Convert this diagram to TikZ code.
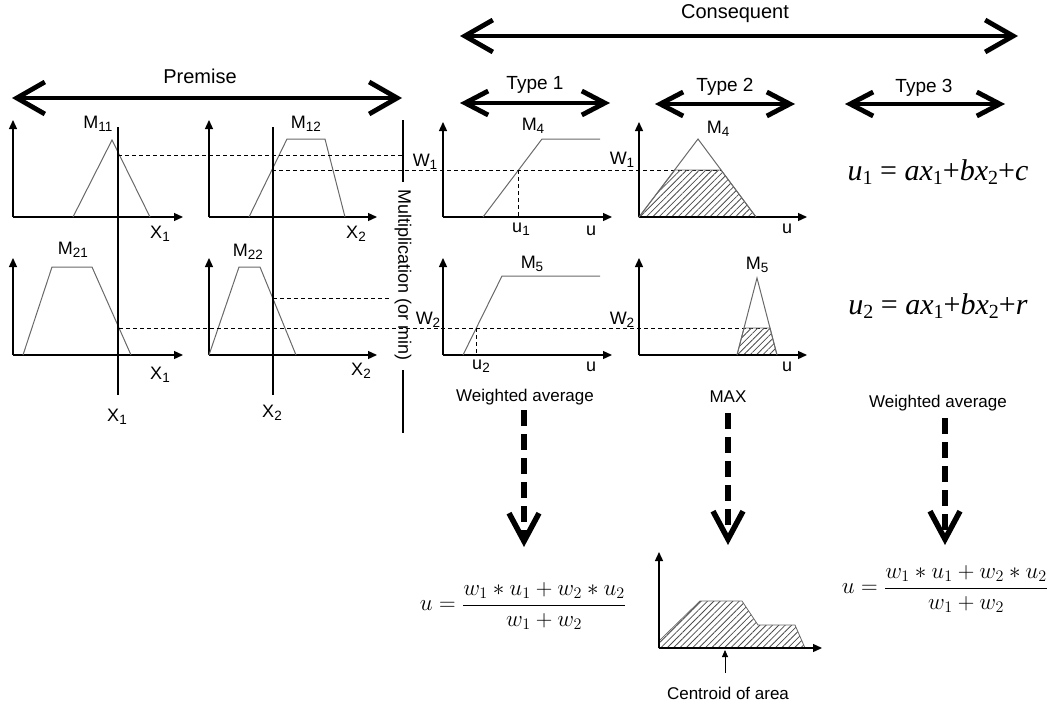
\RequirePackage{fix-cm}
\documentclass[tikz,border=0pt]{standalone}
\usepackage[no-math]{fontspec}
\setmainfont{Liberation Sans}
\newfontfamily\tmsfont{Liberation Serif}
\usetikzlibrary{arrows.meta,patterns.meta}
\newcommand{\sbx}[1]{\raisebox{-0.3ex}{\fontsize{13.5}{14}\selectfont #1}}
\newcommand{\tsb}[1]{\raisebox{-0.35ex}{\fontsize{20}{20}\selectfont #1}}
\definecolor{mfgray}{RGB}{105,105,105}
\begin{document}
\begin{tikzpicture}[x=1pt,y=-1pt,
  lbl/.style={font=\fontsize{18}{18}\selectfont, inner sep=0pt},
  titlelbl/.style={font=\fontsize{20}{20}\selectfont, inner sep=0pt},
  typelbl/.style={font=\fontsize{19}{19}\selectfont, inner sep=0pt},
  smalllbl/.style={font=\fontsize{17}{17}\selectfont, inner sep=0pt},
  axisline/.style={line width=1.3pt, -{Triangle[length=9pt,width=8pt]}},
  mf/.style={draw=mfgray, line width=1pt, line join=miter},
  guide/.style={line width=0.9pt, dash pattern=on 4pt off 3pt},
  vline/.style={line width=1.2pt},
  bigbracket/.style={line width=4.8pt, {Straight Barb[length=28pt,width=32pt]}-{Straight Barb[length=28pt,width=32pt]}},
  typebracket/.style={line width=4.8pt, {Straight Barb[length=23pt,width=24pt]}-{Straight Barb[length=23pt,width=24pt]}},
  downarrow/.style={line width=5.5pt, dash pattern=on 16pt off 8pt, -{Straight Barb[length=28pt,width=30pt]}},
  hatch/.style={draw=mfgray, line width=0.8pt, pattern={Lines[angle=45,distance=4.5pt,line width=0.8pt]}, pattern color=black!70}
]
\useasboundingbox (0,0) rectangle (1058,704);

% ---------- brackets ----------
\coordinate (cL) at (460,36); \coordinate (cR) at (1018,36);
\draw[bigbracket] (cL) -- (cR);
\node[titlelbl] (cons) at (735,14) {Consequent};
\coordinate (pL) at (12,98); \coordinate (pR) at (402,98);
\draw[bigbracket] (pL) -- (pR);
\node[titlelbl] (prem) at (200,76) {Premise};
\coordinate (t1L) at (460,103); \coordinate (t1R) at (610,103);
\draw[typebracket] (t1L) -- (t1R);
\node[typelbl] (t1) at (535,85) {Type 1};
\coordinate (t2L) at (655,104); \coordinate (t2R) at (795,104);
\draw[typebracket] (t2L) -- (t2R);
\node[typelbl] (t2) at (725,87) {Type 2};
\coordinate (t3L) at (845,104); \coordinate (t3R) at (1005,104);
\draw[typebracket] (t3L) -- (t3R);
\node[typelbl] (t3) at (924,88) {Type 3};

% ---------- premise plots ----------
% plot 1
\coordinate (o1) at (13,217);
\draw[axisline] (o1) -- (13,120);
\draw[axisline] (o1) -- (183,217);
\draw[mf] (73,217) -- (112,140) -- (150,217);
\node[lbl] (m11) at (98,124) {M\sbx{11}};
\node[lbl] (x1a) at (160,234) {X\sbx{1}};
% plot 2
\coordinate (o2) at (209,217);
\draw[axisline] (o2) -- (209,120);
\draw[axisline] (o2) -- (377,217);
\draw[mf] (249,217) -- (287,139) -- (325,139) -- (345,217);
\node[lbl] (m12) at (306,124) {M\sbx{12}};
\node[lbl] (x2a) at (356,234) {X\sbx{2}};
% plot 3
\coordinate (o3) at (13,355);
\draw[axisline] (o3) -- (13,258);
\draw[axisline] (o3) -- (183,355);
\draw[mf] (23,355) -- (52,267) -- (92,267) -- (131,355);
\node[lbl] (m21) at (73,250) {M\sbx{21}};
\node[lbl] (x1b) at (160,375) {X\sbx{1}};
% plot 4
\coordinate (o4) at (209,355);
\draw[axisline] (o4) -- (209,258);
\draw[axisline] (o4) -- (377,355);
\draw[mf] (209,355) -- (239,267) -- (260,267) -- (296,355);
\node[lbl] (m22) at (248,252) {M\sbx{22}};
\node[lbl] (x2b) at (361,371) {X\sbx{2}};

% input lines
\draw[vline] (118,127) -- (118,395);
\draw[vline] (273,127) -- (273,395);
\node[lbl] (x1in) at (117,417) {X\sbx{1}};
\node[lbl] (x2in) at (272,413) {X\sbx{2}};

% guide lines
\draw[guide] (118,155) -- (403,155);
\draw[guide] (272,170) -- (721,170);
\draw[guide] (119,328) -- (770,328);
\draw[guide] (273,298) -- (390,298);

% multiplication
\draw[vline] (403,120) -- (403,182);
\draw[vline] (403,370) -- (403,433);
\node[font=\fontsize{18}{18}\selectfont, inner sep=0pt, rotate=-90] (mult) at (403,275) {Multiplication (or min)};

% ---------- consequent plots ----------
% plot 5
\coordinate (o5) at (443,217);
\draw[axisline] (o5) -- (443,122);
\draw[axisline] (o5) -- (612,217);
\draw[mf] (483,217) -- (542,139) -- (600,139);
\draw[guide] (518,170) -- (518,217);
\node[lbl] (m4a) at (533,126) {M\sbx{4}};
\node[lbl] (w1a) at (425,162) {W\sbx{1}};
\node[lbl] (u1) at (521,229) {u\sbx{1}};
\node[lbl] (ua) at (591,231) {u};
% plot 6
\coordinate (o6) at (639,217);
\draw[hatch] (639,217) -- (675,170) -- (721,170) -- (756,217) -- cycle;
\draw[axisline] (o6) -- (639,122);
\draw[axisline] (o6) -- (807,217);
\draw[mf] (639,217) -- (698,139) -- (756,217);
\node[lbl] (m4b) at (718,129) {M\sbx{4}};
\node[lbl] (w1b) at (622,160) {W\sbx{1}};
\node[lbl] (ub) at (787,229) {u};
% plot 7
\coordinate (o7) at (443,355);
\draw[axisline] (o7) -- (443,258);
\draw[axisline] (o7) -- (612,355);
\draw[mf] (463,355) -- (502,276) -- (600,276);
\draw[guide] (476,328) -- (476,355);
\node[lbl] (m5a) at (532,264) {M\sbx{5}};
\node[lbl] (w2a) at (428,320) {W\sbx{2}};
\node[lbl] (u2) at (481,366) {u\sbx{2}};
\node[lbl] (uc) at (591,367) {u};
% plot 8
\coordinate (o8) at (639,355);
\draw[hatch] (737,355) -- (744,328) -- (770,328) -- (777,355) -- cycle;
\draw[axisline] (o8) -- (639,258);
\draw[axisline] (o8) -- (807,355);
\draw[mf] (737,355) -- (757,278) -- (777,355);
\node[lbl] (m5b) at (757,265) {M\sbx{5}};
\node[lbl] (w2b) at (622,320) {W\sbx{2}};
\node[lbl] (ud) at (787,367) {u};

% ---------- type 3 equations ----------
\node[inner sep=0pt, font=\tmsfont\fontsize{30}{30}\selectfont] (eq1) at (938,172)
  {\textit{u}\tsb{1} = \textit{ax}\tsb{1}+\textit{bx}\tsb{2}+\textit{c}};
\node[inner sep=0pt, font=\tmsfont\fontsize{30}{30}\selectfont] (eq2) at (938,306)
  {\textit{u}\tsb{2} = \textit{ax}\tsb{1}+\textit{bx}\tsb{2}+\textit{r}};

% ---------- defuzzification ----------
\node[smalllbl] (wa1) at (525,397) {Weighted average};
\node[smalllbl] (max) at (728,397) {MAX};
\node[smalllbl] (wa3) at (938,403) {Weighted average};
\coordinate (d1a) at (524,410); \coordinate (d1b) at (524,547);
\coordinate (d2a) at (728,413); \coordinate (d2b) at (728,545);
\coordinate (d3a) at (945,418); \coordinate (d3b) at (945,545);
\draw[downarrow] (d1a) -- (d1b);
\draw[downarrow] (d2a) -- (d2b);
\draw[downarrow] (d3a) -- (d3b);

\node[inner sep=0pt, font=\fontsize{23}{27}\selectfont] (f1) at (523,606)
  {$u=\displaystyle\frac{w_1*u_1+w_2*u_2}{w_1+w_2}$};
\node[inner sep=0pt, font=\fontsize{23}{27}\selectfont] (f3) at (945,589)
  {$u=\displaystyle\frac{w_1*u_1+w_2*u_2}{w_1+w_2}$};

% bottom aggregate plot
\coordinate (o9) at (659,648);
\draw[hatch] (659,641) -- (700,601) -- (742,601) -- (758,625) -- (795,625) -- (805,648) -- (659,648) -- cycle;
\draw[axisline] (o9) -- (659,552);
\draw[axisline] (o9) -- (822,648);
\node[smalllbl] (cent) at (728,693) {Centroid of area};
\coordinate (ca) at (725,673); \coordinate (cb) at (725,650);
\draw[line width=0.8pt, -{Triangle[length=7pt,width=6pt]}] (ca) -- (cb);
\end{tikzpicture}
\end{document}
